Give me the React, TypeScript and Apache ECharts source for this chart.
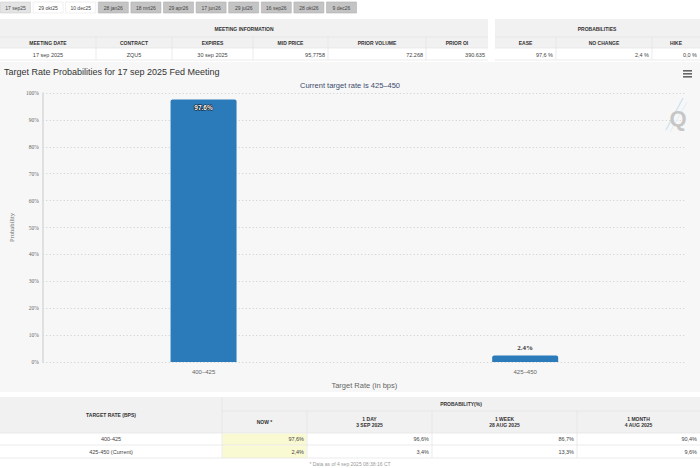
import React, { useEffect, useRef } from 'react';
import * as echarts from 'echarts';

// ---------- data ----------
const tabLabels = ['17 sep25', '29 okt25', '10 dec25', '28 jan26', '18 mrt26', '29 apr26', '17 jun26', '29 jul26', '16 sep26', '28 okt26', '9 dec26'];
const meetingHeaders = ['MEETING DATE', 'CONTRACT', 'EXPIRES', 'MID PRICE', 'PRIOR VOLUME', 'PRIOR OI'];
const meetingValues = ['17 sep 2025', 'ZQU5', '30 sep 2025', '95,7758', '72.268', '390.635'];
const probHeaders = ['EASE', 'NO CHANGE', 'HIKE'];
const probValues = ['97,6 %', '2,4 %', '0,0 %'];
const categories = ['400–425', '425–450'];
const probabilities = [97.6, 2.4];
const targetRates = ['400-425', '425-450 (Current)'];
const periodHeaders = ['NOW *', '1 DAY\n3 SEP 2025', '1 WEEK\n28 AUG 2025', '1 MONTH\n4 AUG 2025'];
const nowValues = ['97,6%', '2,4%'];
const dayValues = ['96,6%', '3,4%'];
const weekValues = ['86,7%', '13,3%'];
const monthValues = ['90,4%', '9,6%'];
const chartTitle = 'Target Rate Probabilities for 17 sep 2025 Fed Meeting';
const chartSubtitle = 'Current target rate is 425–450';
const footnote = '* Data as of 4 sep 2025 08:38:16 CT';

const SANS = 'Liberation Sans, Arial, sans-serif';
const SERIF = 'Liberation Serif, serif';

function txt(x: number, y: number, text: string, o: any = {}) {
  return {
    type: 'text', x, y, silent: true, z: o.z ?? 5,
    style: {
      text, fill: o.fill ?? '#333', fontSize: o.fontSize ?? 5.5, fontWeight: o.fontWeight ?? 'normal',
      fontFamily: o.fontFamily ?? SANS, align: o.align ?? 'center', verticalAlign: 'middle',
      lineHeight: o.lineHeight,
    },
  };
}
function rect(x: number, y: number, w: number, h: number, fill: string, stroke?: string, z = 1) {
  return { type: 'rect', silent: true, z, shape: { x, y, width: w, height: h }, style: { fill, stroke: stroke ?? 'none', lineWidth: stroke ? 0.6 : 0 } };
}
function line(x1: number, y1: number, x2: number, y2: number, stroke = '#e2e2e2', z = 2, w = 0.7) {
  return { type: 'line', silent: true, z, shape: { x1, y1, x2, y2 }, style: { stroke, lineWidth: w } };
}

function buildGraphics() {
  const g: any[] = [];
  // chart background
  g.push(rect(0, 62, 700, 330, '#f7f7f7', undefined, -10));

  // tabs
  tabLabels.forEach((t, i) => {
    const x = i * 32.6 + 0.5;
    const fill = i === 0 ? '#e4e4e4' : i < 3 ? '#ffffff' : '#c4c4c4';
    const stroke = i === 0 ? '#cfcfcf' : i < 3 ? '#e6e6e6' : '#b0b0b0';
    g.push(rect(x, 2, 30, 11, fill, stroke));
    g.push(txt(x + 15, 7.5, t, { fontSize: 5, fill: '#444' }));
  });

  // meeting information table
  const mCols = [0, 96, 172, 253, 328, 426, 488];
  const pCols = [495, 556, 652, 700];
  g.push(rect(0, 19, 488, 29, '#f1f1f1'));
  g.push(rect(495, 19, 205, 29, '#f1f1f1'));
  g.push(line(0, 37, 488, 37, '#e2e2e2'));
  g.push(line(495, 37, 700, 37, '#e2e2e2'));
  g.push(line(0, 48, 488, 48, '#e2e2e2'));
  g.push(line(495, 48, 700, 48, '#e2e2e2'));
  g.push(line(0, 60, 488, 60, '#e2e2e2'));
  g.push(line(495, 60, 700, 60, '#e2e2e2'));
  g.push(txt(244, 28.5, 'MEETING INFORMATION', { fontSize: 5, fontWeight: 'bold' }));
  g.push(txt(597, 28.5, 'PROBABILITIES', { fontSize: 5, fontWeight: 'bold' }));
  meetingHeaders.forEach((h, i) => {
    const x0 = mCols[i], x1 = mCols[i + 1];
    if (i > 0) g.push(line(x0, 37, x0, 60));
    g.push(txt((x0 + x1) / 2, 43, h, { fontSize: 5, fontWeight: 'bold' }));
    const right = i >= 3;
    g.push(txt(right ? x1 - 3 : (x0 + x1) / 2, 54.5, meetingValues[i], { fontSize: 5.5, align: right ? 'right' : 'center', fill: '#444' }));
  });
  probHeaders.forEach((h, i) => {
    const x0 = pCols[i], x1 = pCols[i + 1];
    if (i > 0) g.push(line(x0, 37, x0, 60));
    g.push(txt((x0 + x1) / 2, 43, h, { fontSize: 5, fontWeight: 'bold' }));
    g.push(txt(x1 - 3, 54.5, probValues[i], { fontSize: 5.5, align: 'right', fill: '#444' }));
  });

  // chart title / subtitle / menu / watermark
  g.push(txt(4, 72, chartTitle, { fontSize: 9, align: 'left', fill: '#333' }));
  g.push(txt(350, 85, chartSubtitle, { fontSize: 7.5, fill: '#3b4a6b' }));
  [70, 73, 76].forEach((y) => g.push(rect(683, y, 9, 1.6, '#666')));
  g.push(line(666, 130, 683, 98, '#cfe3f3', 3, 1.4));
  g.push(line(670, 132, 687, 102, '#dcebf7', 3, 0.9));
  g.push(txt(678, 118, 'Q', { fontSize: 22, fontWeight: 'bold', fill: '#c6c6c6', z: 4 }));

  // bottom table
  const bCols = [222, 307, 432, 577, 700];
  g.push(rect(0, 397, 700, 36, '#f1f1f1'));
  g.push(line(222, 397, 222, 458));
  g.push(line(222, 411, 700, 411));
  g.push(line(0, 433, 700, 433));
  g.push(line(0, 445, 700, 445));
  g.push(line(0, 458, 700, 458));
  g.push(txt(111, 415, 'TARGET RATE (BPS)', { fontSize: 5, fontWeight: 'bold' }));
  g.push(txt(461, 404, 'PROBABILITY(%)', { fontSize: 5, fontWeight: 'bold' }));
  periodHeaders.forEach((h, i) => {
    const x0 = bCols[i], x1 = bCols[i + 1];
    if (i > 0) g.push(line(x0, 411, x0, 458));
    g.push(txt((x0 + x1) / 2, 421.5, h, { fontSize: 5, fontWeight: 'bold', lineHeight: 6 }));
  });
  const cols = [nowValues, dayValues, weekValues, monthValues];
  targetRates.forEach((r, j) => {
    const yc = 439 + j * 13;
    g.push(rect(222.5, 433.5 + j * 12.5, 84, 12, '#f9f9d2', undefined, 1));
    g.push(txt(111, yc, r, { fontSize: 5.5, fill: '#444' }));
    cols.forEach((c, i) => {
      g.push(txt(bCols[i + 1] - 3, yc, c[j], { fontSize: 5.5, align: 'right', fill: '#444' }));
    });
  });
  g.push(txt(350, 464, footnote, { fontSize: 5, fill: '#9a9a9a' }));
  return g;
}

export default function App() {
  const ref = useRef<HTMLDivElement>(null);
  useEffect(() => {
    document.body.style.margin = '0';
    const chart = echarts.init(ref.current!, undefined, { renderer: 'svg' });
    chart.setOption({
      animation: false,
      backgroundColor: '#ffffff',
      grid: { left: 36, right: 14, top: 93, bottom: 106, containLabel: false },
      xAxis: {
        type: 'category',
        data: categories,
        axisLine: { show: false },
        axisTick: { show: false },
        axisLabel: { fontSize: 6, color: '#666', margin: 7, fontFamily: SANS },
        name: 'Target Rate (in bps)',
        nameLocation: 'middle',
        nameGap: 19,
        nameTextStyle: { fontSize: 7.5, color: '#666666', fontFamily: SANS },
      },
      yAxis: {
        type: 'value',
        min: 0,
        max: 100,
        interval: 10,
        offset: 0,
        axisLine: { show: true, lineStyle: { color: '#d9d9d9', width: 1.5 } },
        axisTick: { show: false },
        axisLabel: { formatter: '{value}%', fontSize: 5.5, color: '#666', margin: 4, fontFamily: SERIF },
        splitLine: { show: true, lineStyle: { type: [1, 2.5], color: '#cdcdcd', width: 1 } },
        name: 'Probability',
        nameLocation: 'middle',
        nameGap: 27,
        nameRotate: 90,
        nameTextStyle: { fontSize: 6.5, color: '#666', fontFamily: SERIF },
      },
      series: [
        {
          type: 'bar',
          barWidth: 66,
          itemStyle: { color: '#2b7bba', borderRadius: [2, 2, 0, 0] },
          label: { show: true, formatter: '{c}%' },
          data: probabilities.map((v, i) => ({
            value: v,
            label: i === 0
              ? { position: 'insideTop', distance: 5, color: '#ffffff', fontSize: 6.5, fontWeight: 'bold', textBorderColor: '#111', textBorderWidth: 1.2, fontFamily: SANS }
              : { position: 'top', distance: 4, color: '#333', fontSize: 7, fontWeight: 'bold', fontFamily: SERIF },
          })),
        },
      ],
      graphic: { elements: buildGraphics() },
    });
    return () => chart.dispose();
  }, []);
  return <div ref={ref} style={{ position: 'absolute', left: 0, top: 0, width: 700, height: 468 }} />;
}
